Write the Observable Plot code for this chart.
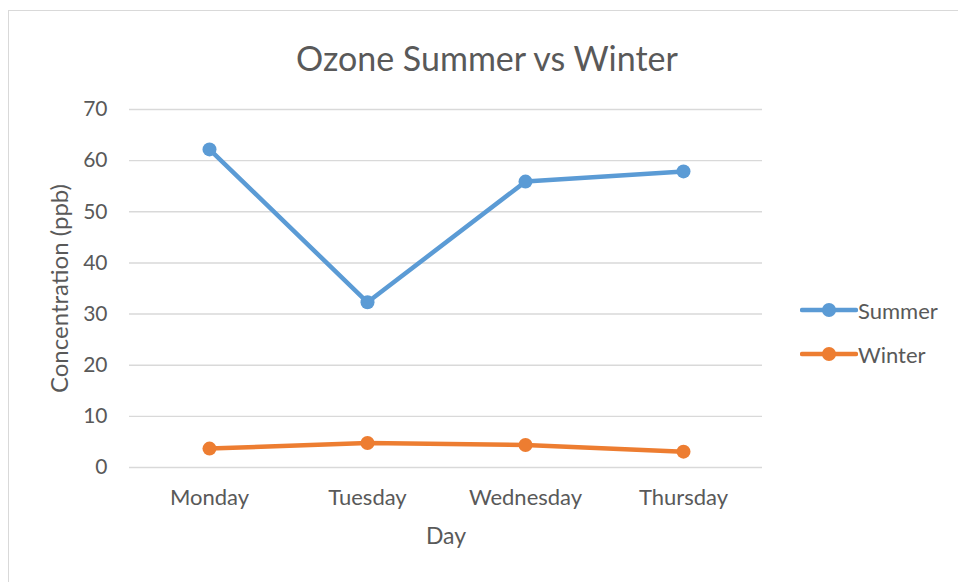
<!DOCTYPE html>
<html>
<head>
<meta charset="utf-8">
<script src="https://cdn.jsdelivr.net/npm/d3@7"></script>
<script src="https://cdn.jsdelivr.net/npm/@observablehq/plot@0.6"></script>
<style>
  html, body { margin: 0; padding: 0; background: #fff; overflow: hidden; }
  #wrap { position: relative; width: 958px; height: 582px; font-family: Lato, "Open Sans", sans-serif; color: #595959; }
  #frame { position: absolute; left: 8px; top: 10px; width: 980px; height: 600px; border-top: 1.5px solid #d9d9d9; border-left: 1.5px solid #d9d9d9; }
  #title { position: absolute; left: 187px; width: 600px; top: 37px; text-align: center; font-size: 34px; line-height: 42px; color: #595959; }
  #chart { position: absolute; left: 0; top: 0; }
  .leg { position: absolute; left: 800px; height: 26px; display: flex; align-items: center; font-size: 22px; color: #595959; }
  .leg svg { display: block; }
</style>
</head>
<body>
<div id="wrap">
  <div id="frame"></div>
  <div id="chart"></div>
  <div id="title">Ozone Summer vs Winter</div>
  <div id="legend"></div>
</div>
<script>
const days = ["Monday", "Tuesday", "Wednesday", "Thursday"];
const summer = [62.2, 32.3, 55.9, 57.9];
const winter = [3.7, 4.8, 4.4, 3.1];
const seriesNames = ["Summer", "Winter"];
const seriesColors = ["#5B9BD5", "#ED7D31"];
const yTicks = [0, 10, 20, 30, 40, 50, 60, 70];

const rows = [
  ...days.map((d, i) => ({day: d, value: summer[i], series: "Summer"})),
  ...days.map((d, i) => ({day: d, value: winter[i], series: "Winter"}))
];

const chart = Plot.plot({
  width: 958,
  height: 582,
  marginLeft: 129,
  marginRight: 196,
  marginTop: 109,
  marginBottom: 115,
  style: {fontFamily: "Lato, 'Open Sans', sans-serif", fontSize: "22px", color: "#595959", background: "transparent"},
  x: {type: "point", domain: days, padding: 0.5, label: null},
  y: {domain: [0, 70], label: null},
  color: {domain: seriesNames, range: seriesColors},
  marks: [
    Plot.gridY(yTicks, {stroke: "#d9d9d9", strokeOpacity: 1, strokeWidth: 1.4}),
    Plot.axisY(yTicks, {tickSize: 0, tickPadding: 22, label: null, fontSize: 21}),
    Plot.axisX({tickSize: 0, tickPadding: 22, label: null, fontSize: 22}),
    Plot.text(["Day"], {frameAnchor: "bottom", dy: 76, fontSize: 23, fill: "#595959"}),
    Plot.text(["Concentration (ppb)"], {frameAnchor: "left", textAnchor: "middle", dx: -69, rotate: -90, fontSize: 24, fill: "#595959"}),
    Plot.line(rows, {x: "day", y: "value", z: "series", stroke: "series", strokeWidth: 4.5, strokeLinecap: "round", strokeLinejoin: "round"}),
    Plot.dot(rows, {x: "day", y: "value", fill: "series", r: 7, stroke: "none"})
  ]
});
document.getElementById("chart").append(chart);

// Legend
const legend = document.getElementById("legend");
const legTops = [297, 341];
seriesNames.forEach((name, i) => {
  const item = document.createElement("div");
  item.className = "leg";
  item.style.top = legTops[i] + "px";
  const ns = "http://www.w3.org/2000/svg";
  const s = document.createElementNS(ns, "svg");
  s.setAttribute("width", 58); s.setAttribute("height", 26);
  const ln = document.createElementNS(ns, "line");
  ln.setAttribute("x1", 2); ln.setAttribute("x2", 56); ln.setAttribute("y1", 13); ln.setAttribute("y2", 13);
  ln.setAttribute("stroke", seriesColors[i]); ln.setAttribute("stroke-width", 4.5); ln.setAttribute("stroke-linecap", "round");
  const c = document.createElementNS(ns, "circle");
  c.setAttribute("cx", 29); c.setAttribute("cy", 13); c.setAttribute("r", 7); c.setAttribute("fill", seriesColors[i]);
  s.append(ln, c);
  const t = document.createElement("span");
  t.textContent = name;
  item.append(s, t);
  legend.append(item);
});
</script>
</body>
</html>
